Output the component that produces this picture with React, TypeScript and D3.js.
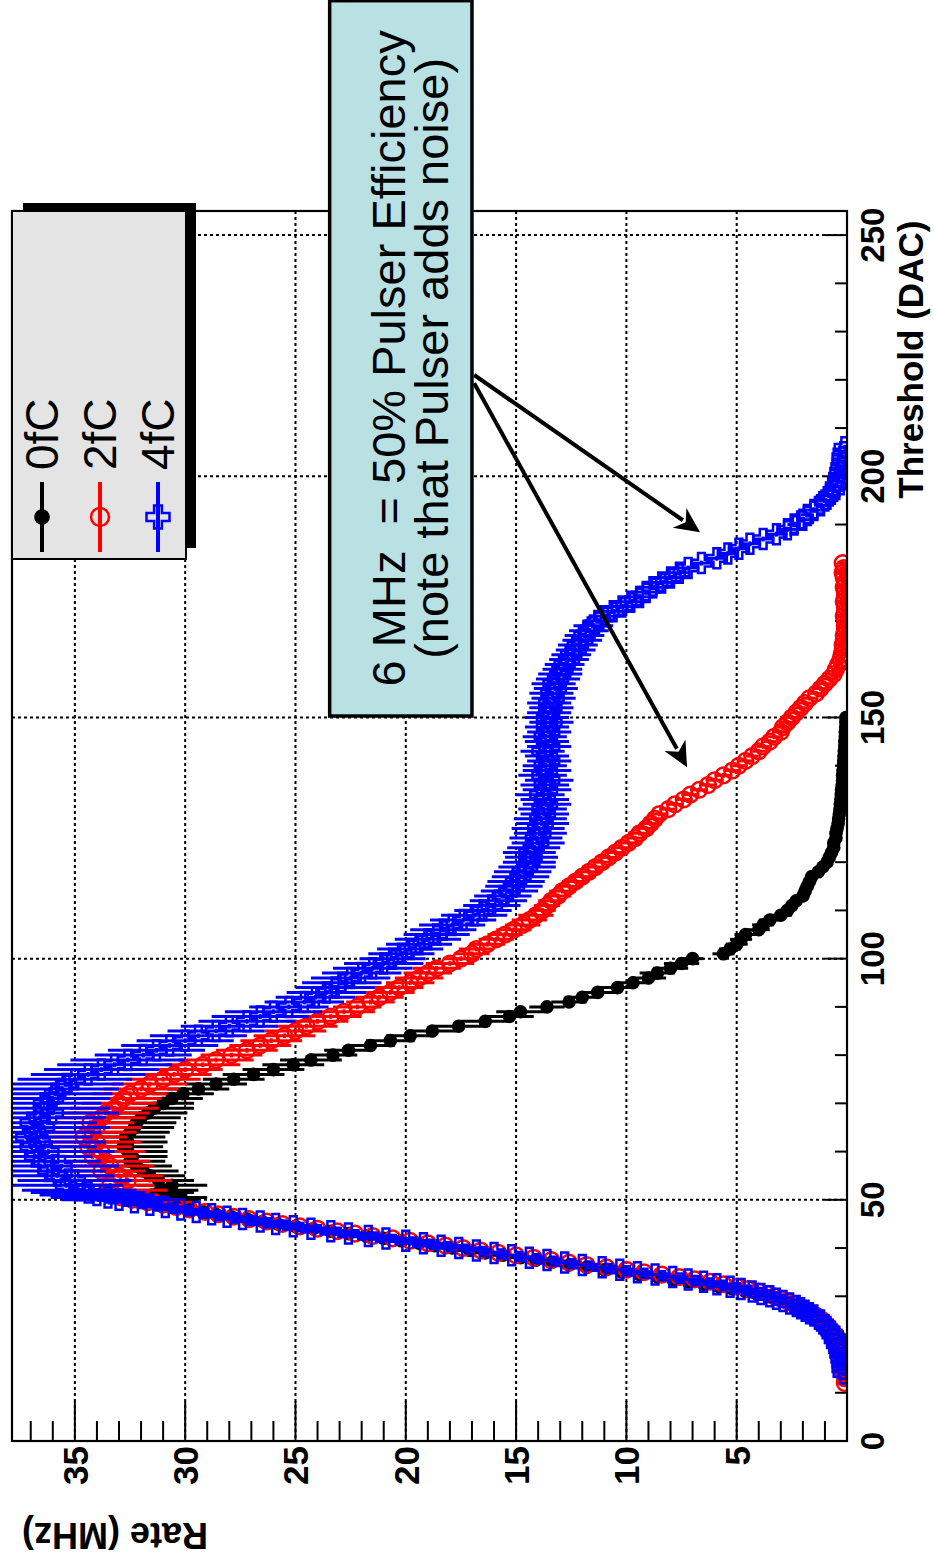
import React from 'react';
import * as d3 from 'd3';

const W = 934;
const H = 1564;

// axis ticks
const thresholdTicks = [0, 50, 100, 150, 200, 250];
const rateTicks = [5, 10, 15, 20, 25, 30, 35];

const seriesNames = ['0fC', '2fC', '4fC'];
const seriesColors = ['#000000', '#ff0000', '#0000ff'];

// 0fC (black): threshold = start + index (DAC), value = rate (MHz)
const black0fCStart = 20;
const black0fC = [
  0.2, 0.3, 0.4, 0.6, 0.8, 1.0, 1.3, 1.7, 2.2, 2.8,
  3.6, 4.6, 5.8, 7.2, 8.6, 10.2, 11.8, 13.4, 14.8, 16.4,
  17.9, 19.4, 21.0, 22.6, 24.2, 25.8, 27.2, 28.6, 29.8, 30.8,
  31.0, 31.5, 31.0, 30.6, 31.2, 31.6, 31.9, 32.2, 32.5, 32.4,
  32.6, 32.8, 32.6, 32.7, 32.5, 32.3, 32.2, 32.0, 31.7, 31.4,
  31.0, 30.6, 30.1, 29.4, 28.6, 27.8, 26.9, 26.0, 25.1, 24.3,
  23.3, 22.6, 21.6, 20.7, 19.8, 18.8, 17.6, 16.4, 15.3, 14.8,
  13.6, 12.6, 12.0, 11.3, 10.4, 9.7, 9.0, 8.6, 8.0, 7.5,
  7.0, 5.6, 5.3, 5.0, 4.8, 4.6, 4.0, 3.8, 3.5, 3.0,
  2.7, 2.5, 2.3, 2.0, 1.9, 1.8, 1.7, 1.6, 1.3, 1.1,
  0.9, 0.8, 0.7, 0.6, 0.6, 0.5, 0.5, 0.45, 0.4, 0.38,
  0.35, 0.32, 0.3, 0.28, 0.26, 0.25, 0.22, 0.2, 0.2, 0.18,
  0.16, 0.15, 0.14, 0.12, 0.1, 0.1, 0.08, 0.08, 0.06, 0.05, 0.05,
];
// extra half-DAC readings on the steep rising edge (threshold = halfStart + index)
const halfStart = 26.5;
const black0fCHalf = [
  1.5, 1.95, 2.5, 3.2, 4.1, 5.2, 6.5, 7.9, 9.4, 11.0,
  12.6, 14.1, 15.6, 17.1, 18.7, 20.2, 21.8, 23.4, 25.0, 26.5,
  27.9, 29.2, 30.3, 31.2, 30.6, 31.2,
];
// error half-width (MHz) per 10-DAC bin
const black0fCErr = [0.2, 0.2, 0.4, 0.6, 0.8, 1.6, 1.8, 1.4, 1.1, 0.8, 0.5, 0.3, 0.2, 0.15, 0.1, 0.1];

// 2fC (red)
const red2fCStart = 12;
const red2fC = [
  0.1, 0.1, 0.15, 0.2, 0.2, 0.25, 0.3, 0.35,
  0.4, 0.5, 0.6, 0.7, 0.9, 1.1, 1.4, 1.8, 2.2, 2.7,
  3.3, 4.0, 5.0, 6.2, 7.6, 9.2, 10.9, 12.6, 14.2, 15.8,
  17.4, 19.0, 20.6, 22.3, 24.0, 25.6, 27.1, 28.5, 29.8, 31.0,
  32.4, 33.2, 32.8, 33.4, 32.6, 33.0, 33.8, 33.4, 33.6, 34.2,
  33.8, 34.4, 34.0, 34.6, 34.2, 34.0, 34.3, 33.8, 33.6, 33.2,
  33.0, 32.8, 32.5, 32.0, 31.6, 31.0, 30.5, 30.0, 29.2, 28.6,
  27.9, 27.2, 26.6, 26.1, 25.5, 25.0, 24.5, 24.0, 23.4, 22.8,
  22.2, 21.6, 21.2, 20.7, 20.3, 19.8, 19.4, 19.0, 18.6, 18.0,
  17.5, 17.0, 16.8, 16.3, 15.9, 15.5, 15.1, 14.7, 14.4, 14.1,
  13.8, 13.6, 13.4, 13.1, 12.9, 12.6, 12.3, 12.0, 11.7, 11.4,
  11.1, 10.8, 10.5, 10.2, 9.9, 9.6, 9.4, 9.1, 8.9, 8.7,
  8.5, 8.1, 7.8, 7.4, 7.1, 6.7, 6.3, 6.0, 5.6, 5.2,
  4.9, 4.6, 4.3, 4.0, 3.8, 3.5, 3.3, 3.0, 2.9, 2.7,
  2.5, 2.3, 2.1, 1.9, 1.7, 1.4, 1.2, 1.0, 0.8, 0.6,
  0.5, 0.4, 0.3, 0.25, 0.2, 0.2, 0.15, 0.15, 0.1, 0.1,
  0.1, 0.15, 0.1, 0.1, 0.15, 0.1, 0.1, 0.15, 0.1, 0.15, 0.2, 0.15, 0.2,
];
const red2fCHalf = [
  1.6, 2.0, 2.45, 3.0, 3.6, 4.5, 5.6, 6.9, 8.4, 10.0,
  11.8, 13.4, 15.0, 16.6, 18.2, 19.8, 21.5, 23.1, 24.8, 26.3,
  27.8, 29.1, 30.4, 31.7, 32.9, 33.6,
];
const red2fCErr = [0.2, 0.3, 0.4, 0.6, 0.9, 2.0, 2.0, 1.7, 1.4, 1.1, 0.8, 0.6, 0.5, 0.4, 0.3, 0.3, 0.2, 0.2, 0.2];

// 4fC (blue)
const blue4fCStart = 14;
const blue4fC = [
  0.15, 0.2, 0.2, 0.25, 0.3, 0.35,
  0.45, 0.55, 0.65, 0.8, 1.0, 1.2, 1.5, 1.9, 2.3, 2.9,
  3.5, 4.3, 5.3, 6.5, 7.9, 9.5, 11.1, 12.8, 14.4, 16.0,
  17.6, 19.2, 20.9, 22.6, 24.3, 25.9, 27.4, 28.8, 30.2, 31.6,
  33.0, 34.0, 34.8, 35.4, 35.0, 35.8, 36.2, 35.6, 36.4, 36.8,
  36.2, 37.0, 36.6, 37.2, 36.8, 36.4, 37.0, 36.6, 36.0, 36.4,
  36.4, 36.0, 35.9, 35.6, 35.4, 35.0, 34.4, 33.8, 33.2, 32.6,
  31.9, 31.3, 30.7, 30.0, 29.4, 28.6, 28.0, 27.2, 26.6, 26.0,
  25.3, 24.6, 24.1, 23.6, 23.2, 22.9, 22.5, 22.0, 21.5, 21.0,
  20.6, 20.2, 19.8, 19.4, 19.0, 18.6, 18.3, 17.9, 17.4, 16.9,
  16.5, 16.1, 15.8, 15.6, 15.3, 15.1, 15.0, 14.8, 14.7, 14.5,
  14.4, 14.3, 14.4, 14.2, 14.0, 14.1, 13.9, 14.0, 13.8, 13.9,
  13.7, 13.8, 13.6, 13.7, 13.9, 13.6, 13.7, 13.5, 13.8, 13.6,
  13.7, 13.5, 13.6, 13.8, 13.5, 13.6, 13.7, 13.5, 13.6, 13.4,
  13.6, 13.5, 13.4, 13.5, 13.3, 13.4, 13.2, 13.3, 13.1, 13.0,
  12.9, 12.8, 12.6, 12.5, 12.3, 12.2, 12.0, 11.9, 11.7, 11.5,
  11.3, 11.0, 10.6, 10.2, 9.8, 9.4, 9.1, 8.8, 8.4, 8.0,
  7.6, 7.2, 6.6, 5.9, 5.4, 4.9, 4.4, 3.8, 3.2, 2.7,
  2.4, 2.0, 1.8, 1.5, 1.2, 1.0, 0.8, 0.6, 0.5, 0.4,
  0.35, 0.3, 0.25, 0.2, 0.2, 0.15, 0.1,
];
const blue4fCHalf = [
  1.7, 2.1, 2.6, 3.2, 3.9, 4.8, 5.9, 7.2, 8.7, 10.3,
  12.0, 13.6, 15.2, 16.8, 18.4, 20.0, 21.7, 23.4, 25.1, 26.6,
  28.1, 29.5, 30.9, 32.3, 33.5, 34.4,
];
const blue4fCErr = [0.2, 0.3, 0.4, 0.7, 1.3, 2.6, 3.0, 2.6, 2.2, 1.8, 1.5, 1.3, 1.2, 1.1, 1.0, 1.0, 0.9, 0.7, 0.5, 0.3, 0.2];

// annotation (in data units: rate MHz, threshold DAC)
const noteLines = ['6 MHz\u00a0\u00a0= 50% Pulser Efficiency', '(note that Pulser adds noise)'];
const noteBox = { rateFrom: 23.45, rateTo: 17.0, thrFrom: 150.3, thrTo: 298.6 };
const noteArrows = [
  { fromRate: 16.9, fromThr: 221.0, toRate: 6.66, toThr: 188.4 },
  { fromRate: 16.9, fromThr: 219.3, toRate: 7.25, toThr: 139.7 },
];

const FONT = '"Liberation Sans", Arial, Helvetica, sans-serif';

function crossPath(L: number, w: number) {
  return `M${-w},${-L}H${w}V${-w}H${L}V${w}H${w}V${L}H${-w}V${w}H${-L}V${-w}H${-w}Z`;
}

export default function App() {
  const tScale = d3.scaleLinear().domain([0, 255]).range([1441, 211]);
  const rScale = d3.scaleLinear().domain([0, 37.85]).range([847, 12]);

  const left = rScale(37.85);
  const right = rScale(0);
  const top = tScale(255);
  const bottom = tScale(0);

  const series = [
    { start: black0fCStart, vals: black0fC, half: black0fCHalf, err: black0fCErr, color: seriesColors[0], kind: 'dot' },
    { start: red2fCStart, vals: red2fC, half: red2fCHalf, err: red2fCErr, color: seriesColors[1], kind: 'circle' },
    { start: blue4fCStart, vals: blue4fC, half: blue4fCHalf, err: blue4fCErr, color: seriesColors[2], kind: 'cross' },
  ];

  const minorT = d3.range(0, 256, 10);
  const minorR = d3.range(0, 38, 1);

  const marker = (kind: string, color: string, x: number, y: number, scale = 1, key?: any) => {
    if (kind === 'dot') return <circle key={key} cx={x} cy={y} r={6.8 * scale} fill={color} />;
    if (kind === 'circle')
      return <circle key={key} cx={x} cy={y} r={7.8 * scale} fill="none" stroke={color} strokeWidth={2.5} />;
    return (
      <path key={key} d={crossPath(10 * scale, 3.4 * scale)} transform={`translate(${x},${y})`} fill="none" stroke={color} strokeWidth={2.5} />
    );
  };

  const bx0 = rScale(noteBox.rateFrom);
  const bx1 = rScale(noteBox.rateTo);
  const by0 = tScale(noteBox.thrTo);
  const by1 = tScale(noteBox.thrFrom);
  const bcy = (by0 + by1) / 2;

  const pointsOf = (s: any) => {
    const pts: { t: number; v: number; dt: number }[] = [];
    s.vals.forEach((v: number, i: number) => pts.push({ t: s.start + i, v, dt: 0.5 }));
    s.half.forEach((v: number, i: number) => pts.push({ t: halfStart + i, v, dt: 0.25 }));
    return pts.sort((a, b) => a.t - b.t);
  };

  return (
    <svg width={W} height={H} style={{ position: 'absolute', left: 0, top: 0, background: '#fff' }} fontFamily={FONT}>
      <defs>
        <clipPath id="plotClip">
          <rect x={left} y={top} width={right - left} height={bottom - top} />
        </clipPath>
      </defs>
      <rect x={0} y={0} width={W} height={H} fill="#fff" />

      {/* grid */}
      {thresholdTicks.filter((t) => t > 0).map((t) => (
        <line key={'gt' + t} x1={left} x2={right} y1={tScale(t)} y2={tScale(t)} stroke="#000" strokeWidth={2} strokeDasharray="3,3" />
      ))}
      {rateTicks.map((r) => (
        <line key={'gr' + r} x1={rScale(r)} x2={rScale(r)} y1={top} y2={bottom} stroke="#000" strokeWidth={2} strokeDasharray="3,3" />
      ))}

      {/* ticks */}
      {minorT.map((t) => (
        <line key={'tt' + t} x1={right} x2={right - (t % 50 === 0 ? 22 : 12)} y1={tScale(t)} y2={tScale(t)} stroke="#000" strokeWidth={2} />
      ))}
      {minorR.map((r) => (
        <line key={'tr' + r} x1={rScale(r)} x2={rScale(r)} y1={bottom} y2={bottom - (r % 5 === 0 ? 40 : 20)} stroke="#000" strokeWidth={2} />
      ))}

      {/* data */}
      <g clipPath="url(#plotClip)">
        {series.map((s, si) => (
          <g key={'s' + si}>
            {pointsOf(s).map((p, i) => {
              const e = s.err[Math.floor(p.t / 10)] ?? 0.2;
              const y = tScale(p.t);
              return (
                <g key={i}>
                  <line x1={rScale(p.v - e)} x2={rScale(p.v + e)} y1={y} y2={y} stroke={s.color} strokeWidth={3} />
                  <line x1={rScale(p.v)} x2={rScale(p.v)} y1={tScale(p.t - p.dt)} y2={tScale(p.t + p.dt)} stroke={s.color} strokeWidth={3} />
                  {marker(s.kind, s.color, rScale(p.v), y)}
                </g>
              );
            })}
          </g>
        ))}
      </g>

      {/* frame */}
      <rect x={left} y={top} width={right - left} height={bottom - top} fill="none" stroke="#000" strokeWidth={2.2} />

      {/* threshold tick labels */}
      {thresholdTicks.map((t) => (
        <text key={'lt' + t} transform={`translate(${right + 37},${tScale(t)}) rotate(-90)`} textAnchor="middle" fontSize={33} fontWeight="bold">
          {t}
        </text>
      ))}
      <text transform={`translate(923,${tScale(253)}) rotate(-90)`} textAnchor="end" fontSize={35} fontWeight="bold">
        Threshold (DAC)
      </text>

      {/* rate tick labels */}
      {rateTicks.map((r) => (
        <text key={'lr' + r} transform={`translate(${rScale(r) + 13},${bottom + 5}) rotate(-90)`} textAnchor="end" fontSize={35} fontWeight="bold">
          {r}
        </text>
      ))}
      <text transform={`translate(${rScale(37.4)},1523) rotate(180)`} textAnchor="end" fontSize={36} fontWeight="bold">
        Rate (MHz)
      </text>

      {/* legend */}
      <rect x={23} y={203} width={173} height={345} fill="#000" />
      <rect x={left} y={211} width={174} height={348} fill="#e4e4e4" stroke="#000" strokeWidth={2} />
      {seriesNames.map((name, i) => {
        const mx = 42 + i * 58;
        return (
          <g key={'lg' + i}>
            <line x1={mx} x2={mx} y1={482} y2={552} stroke={seriesColors[i]} strokeWidth={4} />
            {marker(series[i].kind, seriesColors[i], mx, 517, 1.15)}
            <text transform={`translate(${mx + 16},470) rotate(-90)`} fontSize={46}>
              {name}
            </text>
          </g>
        );
      })}

      {/* annotation */}
      <rect x={bx0} y={by0} width={bx1 - bx0} height={by1 - by0} fill="#b9e0e3" stroke="#000" strokeWidth={3.5} />
      <text transform={`translate(${bx0 + 75},${bcy}) rotate(-90)`} textAnchor="middle" fontSize={47}>
        {noteLines[0]}
      </text>
      <text transform={`translate(${bx0 + 118},${bcy}) rotate(-90)`} textAnchor="middle" fontSize={47}>
        {noteLines[1]}
      </text>
      {noteArrows.map((a, i) => {
        const x0 = rScale(a.fromRate), y0 = tScale(a.fromThr);
        const x1 = rScale(a.toRate), y1 = tScale(a.toThr);
        const dx = x1 - x0, dy = y1 - y0;
        const len = Math.hypot(dx, dy);
        const ux = dx / len, uy = dy / len;
        const hl = 25, hw = 12;
        const bxp = x1 - ux * hl, byp = y1 - uy * hl;
        const p1 = [bxp - uy * hw, byp + ux * hw];
        const p2 = [bxp + uy * hw, byp - ux * hw];
        return (
          <g key={'ar' + i}>
            <line x1={x0} y1={y0} x2={bxp + ux * 4} y2={byp + uy * 4} stroke="#000" strokeWidth={4} />
            <path d={`M${x1},${y1}L${p1[0]},${p1[1]}L${x1 - ux * hl * 0.7},${y1 - uy * hl * 0.7}L${p2[0]},${p2[1]}Z`} fill="#000" />
          </g>
        );
      })}
    </svg>
  );
}
